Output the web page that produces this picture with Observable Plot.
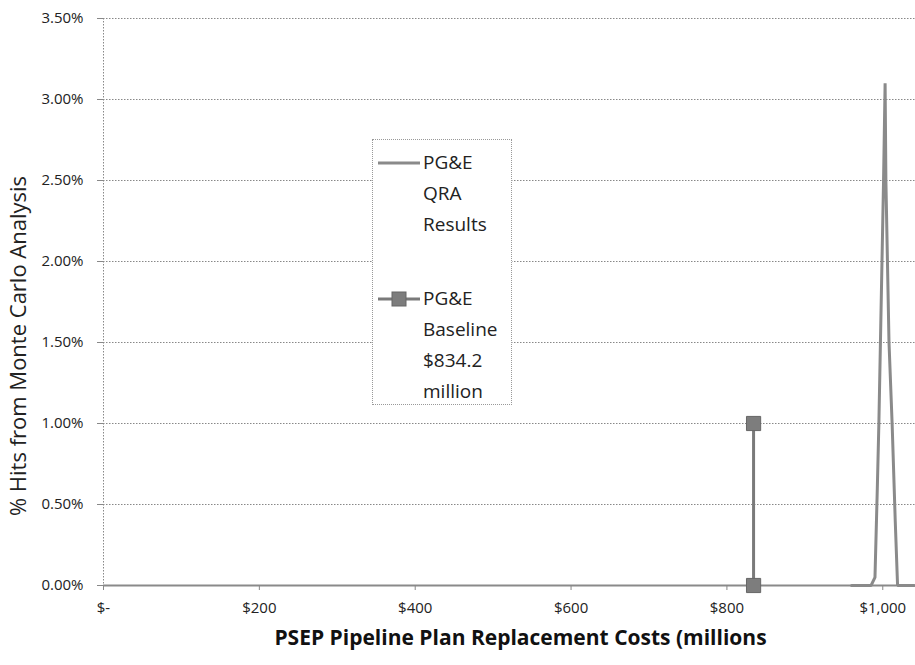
<!DOCTYPE html>
<html>
<head>
<meta charset="utf-8">
<script src="https://cdn.jsdelivr.net/npm/d3@7"></script>
<script src="https://cdn.jsdelivr.net/npm/@observablehq/plot@0.6"></script>
<style>
  html, body { margin: 0; padding: 0; background: #fff; }
  #wrap { position: relative; width: 915px; height: 665px; font-family: "Open Sans", sans-serif; }
  #legend {
    position: absolute; left: 372px; top: 139px; width: 140px; height: 266px;
    border: 1px dotted #999; background: #fff; box-sizing: border-box;
    font-family: "Open Sans", sans-serif; font-size: 19px; line-height: 31px; color: #222;
  }
  .entry { position: absolute; left: 4px; display: flex; align-items: flex-start; }
  .entry svg { flex: none; margin-top: 0px; }
  .entry .lbl { padding-left: 2px; }
</style>
</head>
<body>
<div id="wrap"></div>
<script>
// QRA results curve (cost in $ millions, share of Monte Carlo hits)
const qraCost = [960, 985, 990, 993, 995, 997, 999, 1001, 1003, 1004, 1006, 1008, 1012, 1016, 1019, 1030, 1040];
const qraHits = [0, 0, 0.0005, 0.006, 0.010, 0.015, 0.020, 0.025, 0.031, 0.025, 0.020, 0.015, 0.010, 0.004, 0, 0, 0];

// PG&E baseline
const baseCost = [834.2, 834.2];
const baseHits = [0, 0.01];

// Axis ticks
const xTicks = [0, 200, 400, 600, 800, 1000];
const yTicks = [0, 0.005, 0.01, 0.015, 0.02, 0.025, 0.03, 0.035];

const legendLabels = ["PG&E QRA Results", "PG&E Baseline $834.2 million"];

const qra = qraCost.map((c, i) => ({cost: c, hits: qraHits[i]}));
const base = baseCost.map((c, i) => ({cost: c, hits: baseHits[i]}));

const grey = "#8a8a8a";

const chart = Plot.plot({
  width: 915,
  height: 665,
  marginLeft: 103,
  marginRight: 0,
  marginTop: 18,
  marginBottom: 80,
  style: {fontFamily: "Open Sans, sans-serif", fontSize: "15px", color: "#222", background: "#fff"},
  x: {domain: [0, 1042]},
  y: {domain: [0, 0.035]},
  marks: [
    Plot.gridY(yTicks, {stroke: "#888", strokeOpacity: 1, strokeDasharray: "1.5,1.5", strokeWidth: 1}),
    Plot.ruleX([0], {stroke: "#888", strokeDasharray: "1.5,1.5"}),
    Plot.ruleY([0], {stroke: "#8a8a8a", strokeWidth: 2}),
    Plot.axisY(yTicks, {tickFormat: d3.format(".2%"), tickSize: 6, tickPadding: 14, stroke: "#888", label: null, fontSize: 15}),
    Plot.axisX(xTicks, {tickFormat: d => d === 0 ? "$-" : "$" + d3.format(",")(d), tickSize: 5, tickPadding: 12, stroke: "#888", label: null, fontSize: 15}),
    Plot.text(["% Hits from Monte Carlo Analysis"], {frameAnchor: "left", textAnchor: "middle", rotate: -90, dx: -85, dy: 44, fontSize: 22, fill: "#222"}),
    Plot.text(["PSEP Pipeline Plan Replacement Costs (millions"], {frameAnchor: "bottom", dx: 11, dy: 59, fontSize: 21, fontWeight: "bold", fill: "#111"}),
    Plot.line(base, {x: "cost", y: "hits", stroke: "#7a7a7a", strokeWidth: 3}),
    Plot.dot(base, {x: "cost", y: "hits", symbol: "square", r: 8, fill: "#7d7d7d", stroke: "#666", strokeWidth: 1}),
    Plot.line(qra, {x: "cost", y: "hits", stroke: grey, strokeWidth: 3, strokeLinejoin: "miter"})
  ]
});

const wrap = document.getElementById("wrap");
wrap.appendChild(chart);

const legend = document.createElement("div");
legend.id = "legend";
const words = [["PG&E", "QRA", "Results"], ["PG&E", "Baseline", "$834.2", "million"]];
const tops = [7, 143];
words.forEach((w, i) => {
  const e = document.createElement("div");
  e.className = "entry";
  e.style.top = tops[i] + "px";
  const swatch = i === 0
    ? `<svg width="44" height="31"><line x1="1" x2="43" y1="16" y2="16" stroke="${grey}" stroke-width="3"/></svg>`
    : `<svg width="44" height="31"><line x1="1" x2="43" y1="16" y2="16" stroke="#7a7a7a" stroke-width="3"/><rect x="15" y="9" width="14" height="14" fill="#7d7d7d" stroke="#666"/></svg>`;
  e.innerHTML = swatch + `<div class="lbl" title="${legendLabels[i]}">${w.join("<br>")}</div>`;
  legend.appendChild(e);
});
wrap.appendChild(legend);
</script>
</body>
</html>
